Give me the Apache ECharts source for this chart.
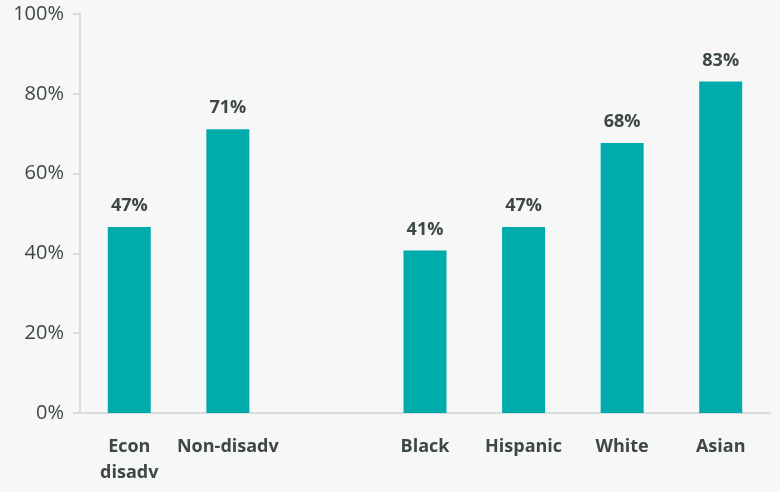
<!DOCTYPE html>
<html><head><meta charset="utf-8">
<script src="https://cdn.jsdelivr.net/npm/echarts@6/dist/echarts.min.js"></script>
<style>html,body{margin:0;padding:0;background:#f7f7f7}#c{width:780px;height:492px}</style>
</head><body><div id="c"></div>
<script>
const categories = ["Econ\ndisadv", "Non-disadv", "", "Black", "Hispanic", "White", "Asian"];
const values = [46.6, 71.1, null, 40.7, 46.6, 67.7, 83.1];
const yTicks = [0, 20, 40, 60, 80, 100];

const chart = echarts.init(document.getElementById('c'));
chart.setOption({
  backgroundColor: '#f7f7f7',
  animation: false,
  grid: {left: 80, right: 10, top: 14, bottom: 79, containLabel: false},
  xAxis: {
    type: 'category', data: categories,
    axisLine: {lineStyle: {color: '#d9dcdc', width: 2}},
    axisTick: {show: false},
    axisLabel: {color: '#3d4747', fontFamily: 'Open Sans', fontWeight: 'bold', fontSize: 18, margin: 21, lineHeight: 26, interval: 0}
  },
  yAxis: {
    type: 'value', min: yTicks[0], max: yTicks[yTicks.length - 1], interval: 20,
    axisLine: {show: true, lineStyle: {color: '#d9dcdc', width: 2}},
    axisTick: {show: true, length: 7, lineStyle: {color: '#d9dcdc', width: 2}},
    splitLine: {show: false},
    axisLabel: {color: '#3d4747', fontFamily: 'Open Sans', fontSize: 20, margin: 16, formatter: v => v + '%'}
  },
  series: [{
    type: 'bar', data: values, barWidth: 43,
    itemStyle: {color: '#00abab'},
    label: {show: true, position: 'top', distance: 12, color: '#3d4747', fontFamily: 'Open Sans', fontWeight: 'bold', fontSize: 18,
      formatter: p => Math.round(p.value) + '%'}
  }]
});
</script></body></html>
